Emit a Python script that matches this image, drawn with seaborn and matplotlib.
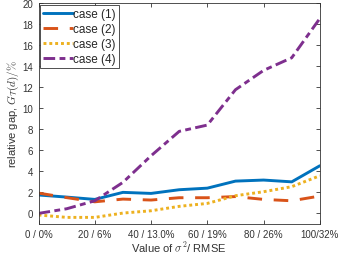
import numpy as np
import pandas as pd
import matplotlib
matplotlib.use('Agg')
import matplotlib.pyplot as plt
import seaborn as sns

# giá trị sigma^2 (trục x)
sigma2 = [0, 10, 20, 30, 40, 50, 60, 70, 80, 90, 100]
case1 = [1.75, 1.55, 1.33, 2.0, 1.9, 2.25, 2.4, 3.07, 3.17, 3.0, 4.53]
case2 = [1.93, 1.5, 1.1, 1.36, 1.27, 1.49, 1.49, 1.6, 1.33, 1.2, 1.65]
case3 = [-0.15, -0.38, -0.38, 0.03, 0.25, 0.67, 0.95, 1.68, 2.06, 2.54, 3.58]
case4 = [0.0, 0.44, 1.2, 2.95, 5.48, 7.8, 8.4, 11.76, 13.6, 14.8, 18.54]
labels = ['case (1)', 'case (2)', 'case (3)', 'case (4)']
tick_pos = [0, 20, 40, 60, 80, 100]
tick_labels = ['0 / 0%', '20 / 6%', '40 / 13.0%', '60 / 19%', '80 / 26%', '100/32%']

colors = ['#0072BD', '#D95319', '#EDB120', '#7E2F8E']
dashes = ['-', (0, (5, 4)), (0, (1, 1)), (0, (4, 1.5, 2, 1.5))]

sns.set_style('ticks')
plt.rcParams['font.family'] = ['Liberation Sans', 'DejaVu Sans']
plt.rcParams['mathtext.fontset'] = 'cm'

fig = plt.figure(figsize=(3.41, 2.55), dpi=100)
ax = fig.add_axes([0.113, 0.118, 0.825, 0.866])

for vals, lab, c, ls in zip([case1, case2, case3, case4], labels, colors, dashes):
    sns.lineplot(x=sigma2, y=vals, ax=ax, color=c, linewidth=2.1, label=lab)
    ax.lines[-1].set_linestyle(ls)

ax.set_xlim(0, 100)
ax.set_ylim(-1, 20)
ax.set_xticks(tick_pos)
ax.set_xticklabels(tick_labels)
ax.set_yticks(np.arange(0, 21, 2))
ax.tick_params(direction='in', length=3, width=0.6, labelsize=7, colors='#333333',
               top=True, right=True, pad=4)
for s in ax.spines.values():
    s.set_linewidth(0.6)
    s.set_color('#333333')
ax.set_xlabel(r'Value of $\sigma^2$/ RMSE', fontsize=8, labelpad=0, color='#333333')
ax.set_ylabel(r'relative gap, $G_{\mathcal{T}}(d)/\%$', fontsize=8, labelpad=1, color='#333333')

leg = ax.legend(loc='upper left', fontsize=8.5, frameon=True, fancybox=False,
                handlelength=2.5, handletextpad=0.05, borderpad=0.25, labelspacing=0.25,
                borderaxespad=0.15)
leg.get_frame().set_edgecolor('#333333')
leg.get_frame().set_linewidth(0.6)
leg.get_frame().set_alpha(1)

fig.savefig('out.png', dpi=100)
